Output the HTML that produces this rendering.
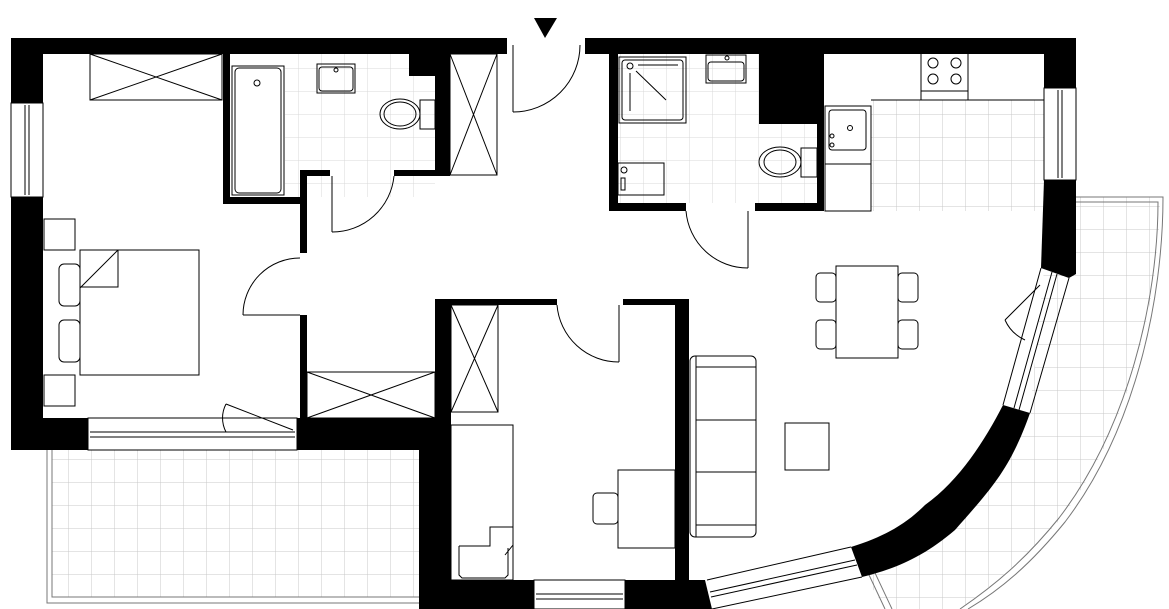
<!DOCTYPE html>
<html><head><meta charset="utf-8"><style>html,body{margin:0;padding:0;background:#fff}svg{display:block}</style></head>
<body>
<svg width="1169" height="609" viewBox="0 0 1169 609" xmlns="http://www.w3.org/2000/svg">
<defs>
<pattern id="tile" width="23" height="23" patternUnits="userSpaceOnUse"><path d="M23 0V23M0 23H23" stroke="#c8c8c8" stroke-width="1" fill="none"/></pattern>
<pattern id="tile2" width="23" height="23" patternUnits="userSpaceOnUse"><path d="M23 0V23M0 23H23" stroke="#d8d8d8" stroke-width="1" fill="none"/></pattern>
</defs>
<g fill="none" stroke="#000" stroke-width="1">
<!-- tiled floors -->
<rect x="285" y="54" width="150" height="143" fill="url(#tile2)" stroke="none"/>
<rect x="618" y="54" width="199" height="149" fill="url(#tile2)" stroke="none"/>
<rect x="871" y="100" width="173" height="111" fill="url(#tile)" stroke="none"/>
<rect x="52" y="450" width="367" height="147" fill="url(#tile)" stroke="none"/>
<path d="M1076 197 H1160 C1160 300 1130 430 1060 520 C1020 565 985 590 960 609 H885 L862 570 C930 540 1000 470 1030 413 L1044 270 Z" fill="url(#tile)" stroke="none"/>
<!-- balconies outlines -->
<path d="M47 450 V603 H419 M52 450 V597 H419" stroke="#777"/>
<path d="M1076 197 H1163 C1163 300 1135 430 1065 522 C1030 565 1000 590 968 609 M1076 202 H1158 C1158 300 1128 428 1059 518 C1025 560 995 585 960 609" stroke="#777"/>
<path d="M862 560 L885 609 M868 558 L892 609" stroke="#777"/>
</g>
<!-- walls -->
<g fill="#000">
<rect x="11" y="38" width="496" height="16"/>
<rect x="11" y="38" width="32" height="65"/>
<rect x="11" y="197" width="32" height="253"/>
<rect x="11" y="418" width="77" height="32"/>
<rect x="297" y="418" width="154" height="32"/>
<rect x="419" y="418" width="17" height="191"/>
<rect x="435" y="299" width="16" height="310"/>
<rect x="435" y="299" width="122" height="6"/>
<rect x="623" y="299" width="66" height="6"/>
<rect x="675" y="299" width="14" height="310"/>
<rect x="420" y="580" width="114" height="29"/>
<path d="M625 580 H705 L712 609 H625 Z"/>
<rect x="223" y="54" width="7" height="150"/>
<rect x="223" y="197" width="84" height="7"/>
<rect x="300" y="170" width="7" height="83"/>
<rect x="300" y="315" width="7" height="103"/>
<rect x="300" y="170" width="30" height="6"/>
<rect x="394" y="170" width="56" height="6"/>
<rect x="435" y="54" width="15" height="122"/>
<rect x="409" y="54" width="26" height="22"/>
<rect x="585" y="38" width="491" height="16"/>
<rect x="1044" y="38" width="32" height="50"/>
<path d="M1044 180 H1076 V274 L1069 278 L1041 268 Z"/>
<rect x="609" y="54" width="9" height="157"/>
<rect x="609" y="203" width="77" height="8"/>
<rect x="755" y="203" width="69" height="8"/>
<rect x="817" y="54" width="7" height="157"/>
<rect x="759" y="54" width="64" height="70"/>
<path d="M1003 405 L1030 413 C1010 470 990 490 955 530 C920 560 890 570 862 577 L851 547 C890 535 910 520 925 505 C960 480 985 440 1003 405 Z"/>
<polygon points="534,18 557,18 545,38"/>
</g>
<g fill="none" stroke="#000" stroke-width="1">
<!-- windows -->
<rect x="11" y="103" width="32" height="94"/><path d="M25 105V195M29 105V195"/>
<rect x="1044" y="88" width="32" height="92"/><path d="M1058 90V178M1062 90V178"/>
<rect x="88" y="418" width="209" height="32"/><path d="M90 432H295M90 437H295"/>
<rect x="534" y="580" width="91" height="29"/><path d="M536 594H623M536 599H623"/>
<path d="M707 580 L851 547 M712 609 L862 577 M710 592 L855 560 M711 597 L857 565"/>
<path d="M1041 268 L1003 405 M1069 278 L1030 413 M1052 272 L1014 408 M1057 274 L1019 410"/>
<!-- doors -->
<path d="M513 45V112 M513 112 A67 67 0 0 0 580 45"/>
<path d="M332 176V232 M332 232 A62 62 0 0 0 394 176"/>
<path d="M243 315H300 M243 315 A57 57 0 0 1 300 258"/>
<path d="M686 211 A62 62 0 0 0 748 268 M748 268V211"/>
<path d="M557 305 A62 62 0 0 0 619 362 M619 362V305"/>
<path d="M226 404 L293 430 M226 404 A30 30 0 0 0 226 432"/>
<path d="M1005 320 L1040 285 M1005 320 A40 40 0 0 0 1025 340"/>
<!-- bedroom furniture -->
<rect x="90" y="54" width="132" height="46"/><path d="M90 54L222 100M90 100L222 54"/>
<rect x="44" y="219" width="31" height="31"/>
<rect x="80" y="250" width="119" height="125"/>
<path d="M80 250H118L80 288M118 250V287H80"/>
<rect x="59" y="264" width="21" height="42" rx="5"/>
<rect x="59" y="320" width="21" height="42" rx="5"/>
<rect x="44" y="375" width="31" height="31"/>
<rect x="307" y="372" width="128" height="46"/><path d="M307 372L435 418M307 418L435 372"/>
<rect x="450" y="54" width="47" height="121"/><path d="M450 54L497 175M497 54L450 175"/>
<!-- bathroom 1 -->
<rect x="232" y="66" width="52" height="129"/>
<rect x="235" y="68" width="46" height="125" rx="4"/>
<circle cx="257" cy="83" r="3"/>
<rect x="317" y="64" width="38" height="29"/><rect x="319" y="67" width="34" height="24" rx="3"/><circle cx="336" cy="70" r="2"/>
<rect x="420" y="100" width="15" height="29"/>
<ellipse cx="400" cy="114" rx="20" ry="15"/><ellipse cx="400" cy="114" rx="16" ry="12"/>
<!-- bathroom 2 -->
<rect x="619" y="57" width="67" height="66"/><rect x="622" y="60" width="61" height="60" rx="3"/>
<circle cx="630" cy="66" r="3"/><path d="M638 65H678M630 73V111M636 71L666 100"/>
<rect x="706" y="55" width="40" height="28"/><rect x="708" y="62" width="36" height="19" rx="3"/><circle cx="727" cy="58" r="2"/>
<rect x="801" y="148" width="16" height="29"/>
<ellipse cx="780" cy="162" rx="21" ry="15"/><ellipse cx="780" cy="162" rx="16" ry="12"/>
<rect x="618" y="163" width="46" height="32"/><circle cx="624" cy="170" r="3"/><rect x="621" y="178" width="4" height="12"/>
<!-- kitchen -->
<rect x="921" y="53" width="47" height="47"/><path d="M921 91H968"/>
<circle cx="933" cy="63" r="5"/><circle cx="956" cy="63" r="5"/><circle cx="933" cy="79" r="5"/><circle cx="956" cy="79" r="5"/>
<path d="M871 100H1044"/>
<rect x="825" y="106" width="46" height="58"/><rect x="829" y="110" width="37" height="40" rx="3"/><circle cx="850" cy="128" r="2.5"/><circle cx="832" cy="136" r="2"/><circle cx="832" cy="145" r="2"/>
<rect x="825" y="164" width="46" height="47"/>
<!-- dining -->
<rect x="836" y="266" width="62" height="92"/>
<rect x="816" y="273" width="20" height="29" rx="4"/><rect x="816" y="320" width="20" height="29" rx="4"/>
<rect x="898" y="273" width="20" height="29" rx="4"/><rect x="898" y="320" width="20" height="29" rx="4"/>
<!-- sofa -->
<rect x="690" y="356" width="66" height="181" rx="5"/>
<path d="M696 367H756M696 420H756M696 472H756M696 525H756M696 356V537"/>
<rect x="785" y="423" width="44" height="47"/>
<!-- bedroom 2 -->
<rect x="451" y="305" width="47" height="107"/><path d="M451 305L498 412M498 305L451 412"/>
<rect x="451" y="425" width="62" height="155"/>
<path d="M459 546H490V527H513V545L505 555 M459 546V575L462 578H505L508 575V548"/>
<rect x="618" y="470" width="57" height="78"/>
<rect x="593" y="493" width="25" height="31" rx="4"/>
</g>
</svg>
</body></html>
